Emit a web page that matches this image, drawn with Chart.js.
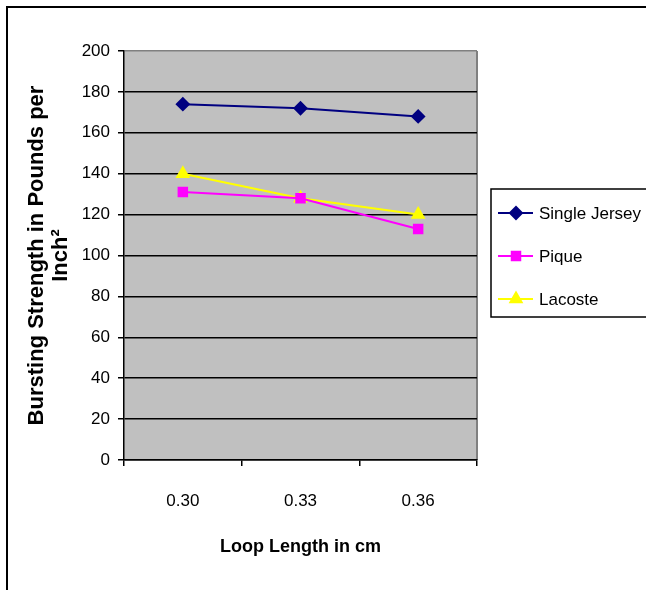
<!DOCTYPE html>
<html>
<head>
<meta charset="utf-8">
<script src="https://cdn.jsdelivr.net/npm/chart.js@4/dist/chart.umd.min.js"></script>
<style>
  body { margin: 0; background: #fff; }
  canvas { display: block; }
</style>
</head>
<body>
<canvas id="burst-chart" width="646" height="590"></canvas>
<script>
// Loop lengths (x categories)
let loopLengths = ['0.30', '0.33', '0.36']

// Bursting strength per fabric
let singleJersey = [174, 172, 168]
let pique = [131, 128, 113]
let lacoste = [140, 128, 120]

// Y axis range
let yMin = 0
let yMax = 200
let yStep = 20

let fontFace = '"Liberation Sans", Arial, sans-serif'

// Grey plot area and the outer frame
let backdrop = {
    id: 'backdrop',
    beforeDraw: function (chart) {
        let c = chart.ctx
        let a = chart.chartArea
        c.save()
        c.fillStyle = '#c0c0c0'
        c.fillRect(a.left, a.top, a.right - a.left, a.bottom - a.top)
        c.strokeStyle = '#808080'
        c.lineWidth = 2
        c.beginPath()
        c.moveTo(a.right, a.top)
        c.lineTo(a.right, a.bottom)
        c.stroke()
        // outer frame (runs off the right and bottom edges)
        c.strokeStyle = '#000'
        c.lineWidth = 2
        c.beginPath()
        c.moveTo(7, 600)
        c.lineTo(7, 7)
        c.lineTo(660, 7)
        c.stroke()
        c.restore()
    }
}

// Boxed legend on the right
let boxLegend = {
    id: 'boxLegend',
    afterDraw: function (chart) {
        let c = chart.ctx
        c.save()
        c.strokeStyle = '#000'
        c.lineWidth = 1.5
        c.strokeRect(491, 189, 200, 128)
        let rows = [213, 256, 299]
        chart.data.datasets.forEach(function (ds, i) {
            let y = rows[i]
            c.strokeStyle = ds.borderColor
            c.lineWidth = 2
            c.beginPath()
            c.moveTo(498, y)
            c.lineTo(533, y)
            c.stroke()
            c.fillStyle = ds.pointBackgroundColor
            Chart.helpers.drawPoint(c, {
                pointStyle: ds.pointStyle,
                radius: ds.pointRadius,
                rotation: 0,
                borderWidth: 1
            }, 516, y)
            c.fillStyle = '#000'
            c.font = '17px ' + fontFace
            c.textBaseline = 'middle'
            c.textAlign = 'left'
            c.fillText(ds.label, 539, y + 1)
        })
        c.restore()
    }
}

let cxt = document.querySelector('#burst-chart').getContext('2d')

let chart = new Chart(cxt, {
    type: 'line',
    data: {
        labels: loopLengths,
        datasets: [
            {label: 'Single Jersey', data: singleJersey,
                borderColor: '#000080', backgroundColor: '#000080',
                pointBackgroundColor: '#000080', pointBorderColor: '#000080',
                pointStyle: 'rectRot', pointRadius: 6, borderWidth: 2},
            {label: 'Pique', data: pique,
                borderColor: '#ff00ff', backgroundColor: '#ff00ff',
                pointBackgroundColor: '#ff00ff', pointBorderColor: '#ff00ff',
                pointStyle: 'rect', pointRadius: 6, borderWidth: 2},
            {label: 'Lacoste', data: lacoste,
                borderColor: '#ffff00', backgroundColor: '#ffff00',
                pointBackgroundColor: '#ffff00', pointBorderColor: '#ffff00',
                pointStyle: 'triangle', pointRadius: 6.5, borderWidth: 2}
        ]
    },
    options: {
        responsive: false,
        devicePixelRatio: 1,
        animation: false,
        layout: {padding: {left: 0, top: 51, right: 169, bottom: 0}},
        plugins: {
            legend: {display: false},
            tooltip: {enabled: false}
        },
        scales: {
            x: {
                offset: true,
                afterFit: function (s) { s.height = 130 },
                grid: {
                    offset: true, drawOnChartArea: false, drawTicks: true,
                    tickLength: 6, color: '#000', lineWidth: 1.5
                },
                border: {color: '#000', width: 1.5},
                ticks: {color: '#000', padding: 25, font: {family: fontFace, size: 17}},
                title: {
                    display: true, text: 'Loop Length in cm', color: '#000',
                    font: {family: fontFace, size: 18, weight: 'bold'},
                    padding: {top: 0, bottom: 32}
                }
            },
            y: {
                min: yMin,
                max: yMax,
                afterFit: function (s) { s.width = 124 },
                grid: {
                    color: function (ctx) { return ctx.tick && ctx.tick.value === yMax ? '#808080' : '#000' },
                    tickColor: '#000', lineWidth: 1.5, tickLength: 6
                },
                border: {color: '#000', width: 1.5},
                ticks: {stepSize: yStep, color: '#000', padding: 8, font: {family: fontFace, size: 17}},
                title: {
                    display: true,
                    text: ['Bursting Strength in Pounds per', 'Inch\u00b2'],
                    color: '#000',
                    font: {family: fontFace, size: 22, weight: 'bold', lineHeight: '24px'},
                    padding: {top: 25, bottom: 0}
                }
            }
        }
    },
    plugins: [backdrop, boxLegend]
})
</script>
</body>
</html>
